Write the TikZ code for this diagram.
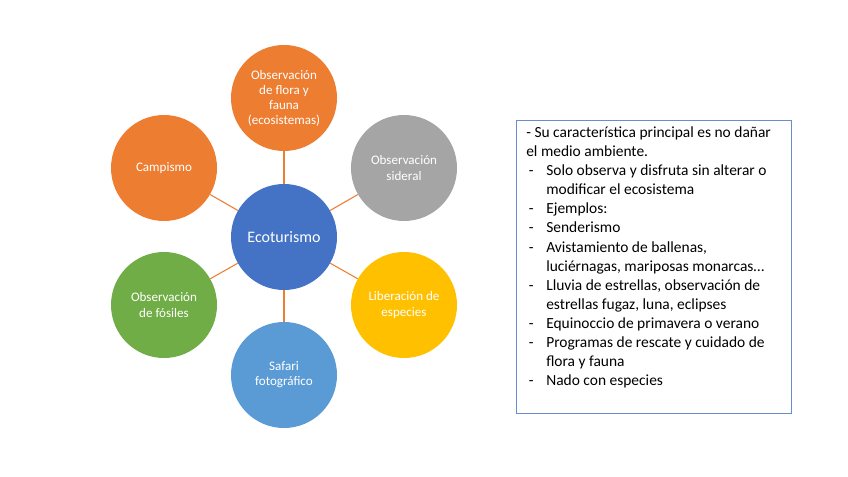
\documentclass[tikz,border=0pt]{standalone}
\usepackage{fontspec}
\setmainfont{Carlito}
\usetikzlibrary{positioning}

\definecolor{eorange}{HTML}{ED7D31}
\definecolor{egray}{HTML}{A5A5A5}
\definecolor{eblue}{HTML}{4472C4}
\definecolor{egold}{HTML}{FFC000}
\definecolor{egreen}{HTML}{70AD47}
\definecolor{elight}{HTML}{5B9BD5}

\begin{document}
\begin{tikzpicture}[
  x=0.75pt, y=-0.75pt,
  bubble/.style={circle, minimum size=79.5pt, inner sep=0pt, align=center,
    text=white, font=\fontsize{9.8}{11.3}\selectfont},
  link/.style={draw=eorange, line width=0.8pt},
  frame/.style={draw=eblue!80, line width=0.8pt, minimum width=206pt,
    minimum height=219.5pt, inner sep=0pt}
]
\useasboundingbox (0,0) rectangle (848,477);

% Center and outer bubbles
\node[bubble, fill=eblue, font=\fontsize{12}{14}\selectfont] (eco) at (284,237) {Ecoturismo};
\node[bubble, fill=eorange] (flora) at (284,98) {Observación\\de flora y\\fauna\\(ecosistemas)};
\node[bubble, fill=egray] (sideral) at (404,168) {Observación\\sideral};
\node[bubble, fill=egold] (especies) at (404,305) {Liberación de\\especies};
\node[bubble, fill=elight] (safari) at (284,375) {Safari\\fotográfico};
\node[bubble, fill=egreen] (fosiles) at (164,305) {Observación\\de fósiles};
\node[bubble, fill=eorange] (campismo) at (164,168) {Campismo};

\draw[link] (eco) -- (flora);
\draw[link] (eco) -- (sideral);
\draw[link] (eco) -- (especies);
\draw[link] (eco) -- (safari);
\draw[link] (eco) -- (fosiles);
\draw[link] (eco) -- (campismo);

% Right: description box
\node[frame, anchor=north west] (info) at (516,120) {};
\node[anchor=north west, inner sep=0pt, font=\fontsize{11.6}{14.3}\selectfont]
  (infotext) at (526,124) {%
  \begin{tabular}{@{}p{15pt}@{}l@{}}
  \multicolumn{2}{@{}l@{}}{- Su característica principal es no dañar}\\
  \multicolumn{2}{@{}l@{}}{el medio ambiente.}\\
  \hspace{2pt}- & Solo observa y disfruta sin alterar o\\
   & modificar el ecosistema\\
  \hspace{2pt}- & Ejemplos:\\
  \hspace{2pt}- & Senderismo\\
  \hspace{2pt}- & Avistamiento de ballenas,\\
   & luciérnagas, mariposas monarcas…\\
  \hspace{2pt}- & Lluvia de estrellas, observación de\\
   & estrellas fugaz, luna, eclipses\\
  \hspace{2pt}- & Equinoccio de primavera o verano\\
  \hspace{2pt}- & Programas de rescate y cuidado de\\
   & flora y fauna\\
  \hspace{2pt}- & Nado con especies
  \end{tabular}};

\end{tikzpicture}
\end{document}
